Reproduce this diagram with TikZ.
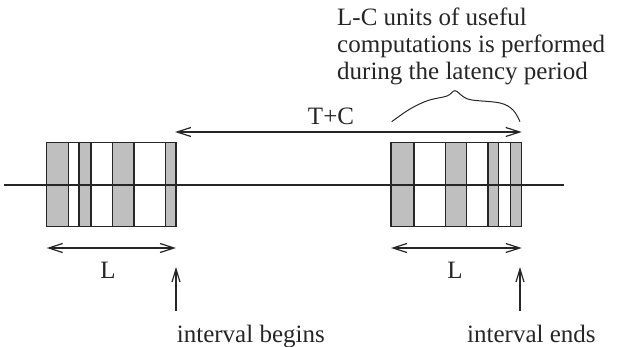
\documentclass[tikz,border=0pt]{standalone}
\usepackage{fontspec}
\setmainfont{Liberation Serif}
\usetikzlibrary{arrows.meta}
\tikzset{
  stripegray/.style={fill=black!25, draw=none},
  outline/.style={draw=black!85, line width=1.5pt},
  conn/.style={draw=black!85, line width=1.2pt},
  dblarrow/.style={conn, {Straight Barb[length=14pt,width=9pt]}-{Straight Barb[length=14pt,width=9pt]}},
  uparrow/.style={conn, -{Straight Barb[length=13pt,width=8pt]}},
  lbl/.style={font=\fontsize{25}{27}\selectfont, inner sep=0pt, text=black!85},
}
\begin{document}
\begin{tikzpicture}[x=1pt,y=-1pt]
\useasboundingbox (0,0) rectangle (617,347);
% gray stripes of left block
\foreach \a/\b in {46.7/68.3, 79/91, 112.3/134, 165.7/176}
  \fill[stripegray] (\a,142.3) rectangle (\b,226.7);
% gray stripes of right block
\foreach \a/\b in {391/414, 445.7/466.7, 488/498.7, 510.3/521.7}
  \fill[stripegray] (\a,142.3) rectangle (\b,226.7);
% time line
\coordinate (tl0) at (4,185);
\coordinate (tl1) at (564,185);
\draw[conn] (tl0) -- (tl1);
% block outlines and dividers
\coordinate (blkLa) at (46.7,142.3);
\coordinate (blkLb) at (176,226.7);
\coordinate (blkRa) at (391,142.3);
\coordinate (blkRb) at (521.7,226.7);
\draw[outline] (blkLa) rectangle (blkLb);
\draw[outline] (blkRa) rectangle (blkRb);
\foreach \x in {68.3, 79, 91, 112.3, 134, 165.7, 414, 445.7, 466.7, 488, 498.7, 510.3}
  \draw[outline] (\x,142.3) -- (\x,226.7);
% T+C arrow
\coordinate (tcL) at (175,132);
\coordinate (tcR) at (521.7,132);
\draw[dblarrow] (tcL) -- (tcR);
\node[lbl, anchor=base] (tc) at (331,125) {T+C};
% brace-like curve
\draw[conn, line width=1pt] plot[smooth, tension=0.6] coordinates {(391.7,121.7) (410,109) (428,100.5) (447,96) (455,90.7) (463,96.5) (472,100) (500,103) (513,110) (520,121.7)};
% annotation text
\node[lbl, anchor=base west] (t1) at (337,26) {L-C units of useful};
\node[lbl, anchor=base west] (t2) at (337,53) {computations is performed};
\node[lbl, anchor=base west] (t3) at (337,80) {during the latency period};
% L arrows
\coordinate (lA) at (46.7,248);
\coordinate (lB) at (176,248);
\coordinate (rA) at (391,248);
\coordinate (rB) at (521.7,248);
\draw[dblarrow] (lA) -- (lB);
\draw[dblarrow] (rA) -- (rB);
\node[lbl, anchor=base] (L1) at (108,278) {L};
\node[lbl, anchor=base] (L2) at (455,278) {L};
% up arrows
\coordinate (ub0) at (176,311);
\coordinate (ub1) at (176,267);
\coordinate (ue0) at (520,311);
\coordinate (ue1) at (520,267);
\draw[uparrow] (ub0) -- (ub1);
\draw[uparrow] (ue0) -- (ue1);
\node[lbl, anchor=base west] (ib) at (176.7,342.7) {interval begins};
\node[lbl, anchor=base west] (ie) at (467,342.7) {interval ends};
\end{tikzpicture}
\end{document}
